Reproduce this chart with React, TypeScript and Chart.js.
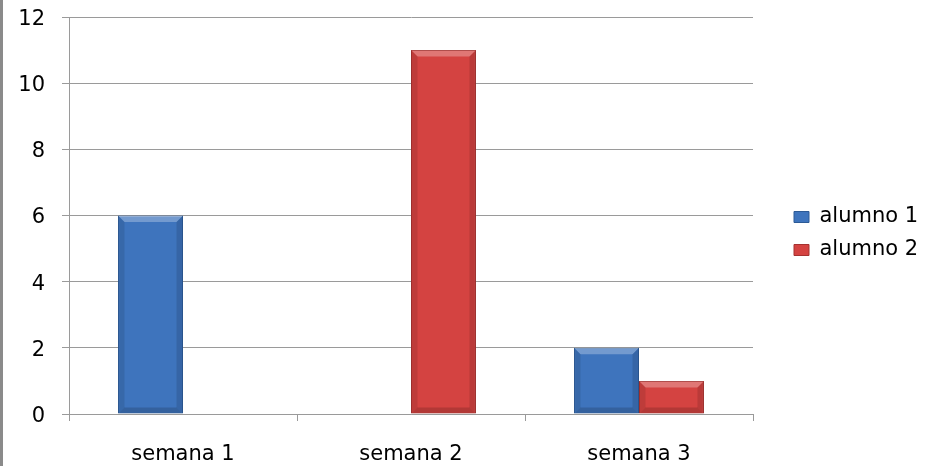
import React, { useEffect, useRef } from "react";
import { Chart, registerables } from "chart.js";

Chart.register(...registerables);

// ---- data ----
const categories = ["semana 1", "semana 2", "semana 3"];
const seriesNames = ["alumno 1", "alumno 2"];
const alumno1 = [6, 0, 2];
const alumno2 = [0, 11, 1];
const yMin = 0;
const yMax = 12;
const yStep = 2;

// ---- styles ----
const FONT = "'DejaVu Sans', sans-serif";
const BLUE = "#3e74bd";
const BLUE_DARK = "#2c5a96";
const RED = "#d44341";
const RED_DARK = "#a53230";
const GRID = "#9a9a9a";

const LEGEND_LEFT_GAP = 29; // space between plot area and legend box
const LEGEND_SHIFT_Y = -8;

const bevelPlugin = {
  id: "bevel",
  afterDatasetsDraw(chart: any) {
    const ctx = chart.ctx;
    chart.data.datasets.forEach((_ds: any, di: number) => {
      const meta = chart.getDatasetMeta(di);
      meta.data.forEach((bar: any) => {
        const { x, y, base, width } = bar.getProps(["x", "y", "base", "width"], true);
        const h = base - y;
        if (h < 1) return;
        const l = x - width / 2 + 0.5;
        const r = x + width / 2 - 0.5;
        const t = y + 0.5;
        const b = base;
        const bv = Math.min(6, h / 2);
        ctx.save();
        ctx.beginPath();
        ctx.moveTo(l, t);
        ctx.lineTo(r, t);
        ctx.lineTo(r - bv, t + bv);
        ctx.lineTo(l + bv, t + bv);
        ctx.closePath();
        ctx.fillStyle = "rgba(255,255,255,0.28)";
        ctx.fill();
        ctx.beginPath();
        ctx.moveTo(l, t);
        ctx.lineTo(l + bv, t + bv);
        ctx.lineTo(l + bv, b - bv);
        ctx.lineTo(l, b);
        ctx.closePath();
        ctx.fillStyle = "rgba(0,0,0,0.10)";
        ctx.fill();
        ctx.beginPath();
        ctx.moveTo(r, t);
        ctx.lineTo(r - bv, t + bv);
        ctx.lineTo(r - bv, b - bv);
        ctx.lineTo(r, b);
        ctx.closePath();
        ctx.fillStyle = "rgba(0,0,0,0.12)";
        ctx.fill();
        ctx.beginPath();
        ctx.moveTo(l, b);
        ctx.lineTo(l + bv, b - bv);
        ctx.lineTo(r - bv, b - bv);
        ctx.lineTo(r, b);
        ctx.closePath();
        ctx.fillStyle = "rgba(0,0,0,0.16)";
        ctx.fill();
        ctx.restore();
      });
    });
  },
};

const legendPlacer = {
  id: "legendPlacer",
  beforeUpdate(chart: any) {
    const lg: any = chart.legend;
    if (lg && !lg.__patched) {
      const orig = lg.fit;
      lg.fit = function () {
        orig.call(this);
        this.width = 180;
      };
      lg.__patched = true;
    }
  },
  afterLayout(chart: any) {
    const lg: any = chart.legend;
    if (!lg) return;
    const w = lg.width;
    lg.left = chart.chartArea.right + LEGEND_LEFT_GAP;
    lg.right = lg.left + w;
    lg.top += LEGEND_SHIFT_Y;
    lg.bottom += LEGEND_SHIFT_Y;
  },
};

export default function App() {
  const canvasRef = useRef<HTMLCanvasElement | null>(null);

  useEffect(() => {
    if (!canvasRef.current) return;
    const chart = new Chart(canvasRef.current, {
      type: "bar",
      data: {
        labels: categories,
        datasets: [
          {
            label: seriesNames[0],
            data: alumno1,
            backgroundColor: BLUE,
            borderColor: BLUE_DARK,
            borderWidth: 1,
            categoryPercentage: 0.57,
            barPercentage: 1,
          },
          {
            label: seriesNames[1],
            data: alumno2,
            backgroundColor: RED,
            borderColor: RED_DARK,
            borderWidth: 1,
            categoryPercentage: 0.57,
            barPercentage: 1,
          },
        ],
      },
      options: {
        animation: false,
        responsive: true,
        maintainAspectRatio: false,
        layout: { padding: { top: 17, left: 0, right: 0, bottom: 0 } },
        plugins: {
          tooltip: { enabled: false },
          title: { display: false },
          legend: {
            display: true,
            position: "right",
            labels: {
              boxWidth: 15,
              boxHeight: 11,
              padding: 12,
              color: "#000",
              font: { family: FONT, size: 21 },
            },
          },
        },
        scales: {
          x: {
            offset: true,
            grid: {
              offset: true,
              display: true,
              drawOnChartArea: false,
              drawTicks: true,
              tickLength: 7,
              color: GRID,
            },
            border: { display: true, color: GRID },
            ticks: {
              color: "#000",
              padding: 21,
              maxRotation: 0,
              font: { family: FONT, size: 21 },
            },
            afterFit(scale: any) {
              scale.height = 52;
            },
          },
          y: {
            min: yMin,
            max: yMax,
            grid: {
              color: GRID,
              drawTicks: true,
              tickLength: 7,
            },
            border: { display: true, color: GRID },
            ticks: {
              stepSize: yStep,
              color: "#000",
              padding: 17,
              labelOffset: 2.5,
              font: { family: FONT, size: 21 },
            },
            afterFit(scale: any) {
              scale.width = 69;
              scale.paddingTop = 0;
              scale.paddingBottom = 0;
            },
          },
        },
      },
      plugins: [bevelPlugin, legendPlacer],
    } as any);
    return () => chart.destroy();
  }, []);

  return (
    <div
      style={{
        position: "fixed",
        left: 0,
        top: 0,
        width: 933,
        height: 466,
        background: "#fff",
      }}
    >
      <div
        style={{
          position: "absolute",
          left: 0,
          top: 0,
          width: 3,
          height: 466,
          background: "#8a8a8a",
        }}
      />
      <canvas ref={canvasRef} />
    </div>
  );
}
